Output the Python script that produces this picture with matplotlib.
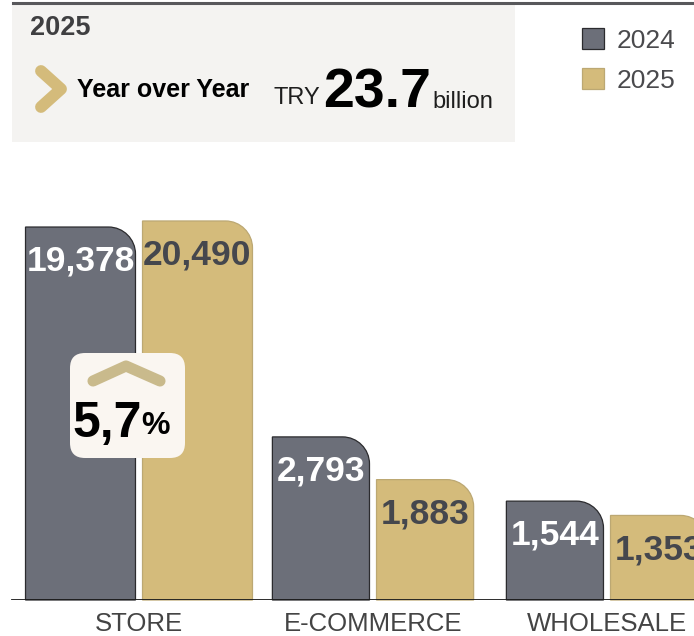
import matplotlib
matplotlib.use("Agg")
import matplotlib.pyplot as plt
from matplotlib.patches import Rectangle, PathPatch, FancyBboxPatch
from matplotlib.path import Path
from matplotlib.lines import Line2D
from matplotlib.transforms import IdentityTransform
import numpy as np

plt.rcParams["font.family"] = ["Liberation Sans", "DejaVu Sans"]

# ---- data (TRY million) ----
categories = ["STORE", "E-COMMERCE", "WHOLESALE"]
years = ["2024", "2025"]
sales_2024 = [19378, 2793, 1544]
sales_2025 = [20490, 1883, 1353]

# ---- style ----
W, H, DPI = 694, 636, 100
GRAY = "#6c6f79"
GOLD = "#d4bb7b"
GRAY_EDGE = "#2b2b2e"
GOLD_EDGE = "#bca873"
BOX_BG = "#f4f3f1"
TEXT_DARK = "#45474d"

fig = plt.figure(figsize=(W / DPI, H / DPI), dpi=DPI)


def fx(px):
    return px / W


def fy(py):
    return 1 - py / H


# ---- chart axes: log value scale, categories spaced evenly ----
ax_bottom_px, ax_top_px = 600, 180
ax = fig.add_axes([0, fy(ax_bottom_px), 1, (ax_bottom_px - ax_top_px) / H])
base = 620
px_per_decade = 249.5
ax.set_yscale("log")
ax.set_ylim(base, base * 10 ** ((ax_bottom_px - ax_top_px) / px_per_decade))
group_px, step_px = 139, 234
ax.set_xlim(-group_px / step_px, (W - group_px) / step_px)
ax.axis("off")

x = np.arange(len(categories))
bar_w = np.array([0.47, 0.415, 0.415])
gap = 0.03
off = (bar_w + gap) / 2

bars_a = ax.bar(x - off, np.array(sales_2024) - base, bottom=base, width=bar_w)
bars_b = ax.bar(x + off, np.array(sales_2025) - base, bottom=base, width=bar_w)


def rounded_top_right(rect, radius, fc, ec):
    x0, y0 = rect.get_x(), rect.get_y()
    x1, y1 = x0 + rect.get_width(), y0 + rect.get_height()
    (a0, b0), (a1, b1) = ax.transData.transform([(x0, y0), (x1, y1)])
    k = 0.5523 * radius
    verts = [(a0, b0), (a0, b1), (a1 - radius, b1),
             (a1 - radius + k, b1), (a1, b1 - radius + k), (a1, b1 - radius),
             (a1, b0), (a0, b0)]
    codes = [Path.MOVETO, Path.LINETO, Path.LINETO,
             Path.CURVE4, Path.CURVE4, Path.CURVE4,
             Path.LINETO, Path.CLOSEPOLY]
    patch = PathPatch(Path(verts, codes), facecolor=fc, edgecolor=ec,
                      linewidth=0.9, transform=IdentityTransform(),
                      clip_on=False, zorder=3)
    ax.add_artist(patch)
    rect.set_visible(False)


for bars, fc, ec in ((bars_a, GRAY, GRAY_EDGE), (bars_b, GOLD, GOLD_EDGE)):
    for r in bars:
        rounded_top_right(r, 27, fc, ec)

# baseline
ax.axhline(base, xmin=12 / W, xmax=1, color="#1c1c1c", lw=1.3, zorder=4)

# value labels inside the bar tops
for xs, vals, col in ((x - off, sales_2024, "white"), (x + off, sales_2025, TEXT_DARK)):
    for xi, v in zip(xs, vals):
        ax.annotate(f"{v:,}", xy=(xi, v), xytext=(0, -31.5),
                    textcoords="offset points", ha="center", va="baseline",
                    fontsize=25.5, fontweight="bold", color=col,
                    zorder=6, annotation_clip=False)

# category labels
for xi, name in zip(x, categories):
    ax.annotate(name, xy=(xi, base), xytext=(0, -22.5), textcoords="offset points",
                ha="center", va="baseline", fontsize=18.5, color="#444444",
                annotation_clip=False)

# ---- growth badge for STORE ----
ax.add_artist(FancyBboxPatch((70, H - 458), 115, 105,
                             boxstyle="round,pad=0,rounding_size=15",
                             transform=IdentityTransform(), facecolor="#faf6f1",
                             edgecolor="none", zorder=7, clip_on=False))
ax.add_artist(Line2D([93, 126, 160], [H - 381, H - 366, H - 381],
                     transform=IdentityTransform(), color="#c9ba8c", lw=8,
                     solid_capstyle="round", solid_joinstyle="round",
                     zorder=8, clip_on=False))
growth = (sales_2025[0] / sales_2024[0] - 1) * 100
fig.text(fx(72), fy(437), f"{growth:.1f}".replace(".", ","), fontsize=36,
         fontweight="bold", color="black", zorder=9)
fig.text(fx(141), fy(434), "%", fontsize=23, fontweight="bold", color="black", zorder=9)

# ---- header panel ----
fig.add_artist(Rectangle((fx(12), fy(142)), fx(503), 139 / H, transform=fig.transFigure,
                         facecolor=BOX_BG, edgecolor="none", zorder=-1))
fig.add_artist(Line2D([fx(13), 1], [fy(2.5), fy(2.5)], transform=fig.transFigure,
                      color="#58585b", lw=2.2))

fig.text(fx(30), fy(35), years[1], fontsize=19.5, fontweight="bold", color="#3f3f41")

# chevron mark
fig.add_artist(Line2D([fx(41), fx(61), fx(41)], [fy(71), fy(89), fy(107)],
                      transform=fig.transFigure, color=GOLD, lw=8.5,
                      solid_capstyle="round", solid_joinstyle="round"))
fig.text(fx(77), fy(97), "Year over Year", fontsize=18, fontweight="bold", color="black")

total_2025 = sum(sales_2025) / 1000
fig.text(fx(273), fy(104), "TRY", fontsize=17, color="#1e1e1e")
fig.text(fx(323), fy(108), f"{total_2025:.1f}", fontsize=40, fontweight="bold", color="black")
fig.text(fx(432), fy(108), "billion", fontsize=17, color="#1e1e1e")

# legend
for i, (yr, fc, ec) in enumerate(((years[0], GRAY, GRAY_EDGE), (years[1], GOLD, GOLD_EDGE))):
    top = 28 + 40 * i
    fig.add_artist(Rectangle((fx(582), fy(top + 21)), fx(22), 21 / H,
                             transform=fig.transFigure, facecolor=fc, edgecolor=ec, lw=0.9))
    fig.text(fx(617), fy(top + 20), yr, fontsize=19, color="#4a4a4d")

fig.savefig("out.png", dpi=DPI, facecolor="white")
